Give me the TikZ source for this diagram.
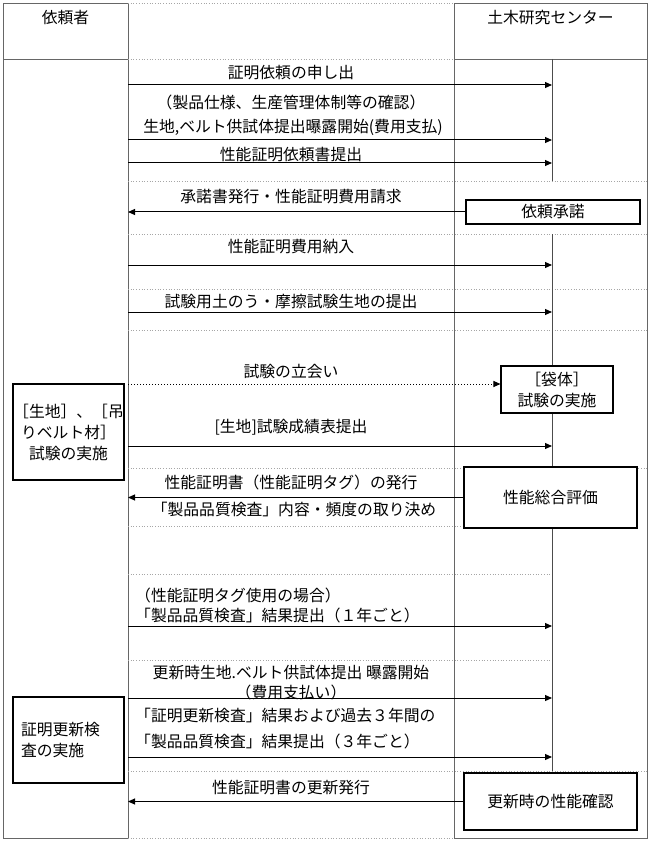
\documentclass[tikz,border=0pt]{standalone}
\usepackage{fontspec}
\setmainfont{Noto Sans CJK JP}
\usetikzlibrary{arrows.meta}
\begin{document}
\begin{tikzpicture}[x=1pt,y=-1pt,
  frame/.style={draw=black!60,line width=0.9pt},
  sep/.style={draw=black!35,dotted,line width=0.7pt},
  lifeline/.style={draw=black!70,line width=0.8pt},
  msg/.style={draw=black,line width=1pt,-{Triangle[length=7pt,width=6pt]}},
  dmsg/.style={msg,dotted},
  lbl/.style={font=\fontsize{15.8}{19}\selectfont,inner sep=0pt,anchor=center},
  lbw/.style={lbl,anchor=west},
  actbox/.style={draw=black,line width=1.1pt,fill=white,font=\fontsize{15.8}{21}\selectfont,align=center,inner sep=0pt}]
\useasboundingbox (0,0) rectangle (650,842);
% table frame
\draw[frame] (3,3) rectangle (128,59);
\draw[frame] (3,59) rectangle (128,838);
\draw[frame] (454,3) rectangle (647,59);
\draw[frame] (454,59) rectangle (647,838);
\draw[sep] (128,3) -- (454,3);
\draw[sep] (128,59) -- (454,59);
\draw[sep] (128,838) -- (454,838);
\node[lbl] (hA) at (65.5,18) {依頼者};
\node[lbl] (hB) at (550.5,18) {土木研究センター};
% separators
\foreach \yy in {181,234,289,330,468,771} \draw[sep] (128,\yy) -- (647,\yy);
\foreach \yy in {526,574,660} \draw[sep] (128,\yy) -- (552,\yy);
% lifeline
\draw[lifeline] (552,59) -- (552,181);
\draw[lifeline] (552,234) -- (552,366);
\draw[lifeline] (552,413) -- (552,467);
\draw[lifeline] (552,528) -- (552,771);
% boxes
\node[actbox,minimum width=174pt,minimum height=24pt] (acc) at (553,212) {依頼承諾};
\node[actbox,minimum width=112pt,minimum height=47pt] (bag) at (557,389.5) {［袋体］\\試験の実施};
\node[actbox,minimum width=173pt,minimum height=61pt] (eval) at (550.5,497.5) {性能総合評価};
\node[actbox,minimum width=173pt,minimum height=57pt] (renew) at (550.5,801.5) {更新時の性能確認};
\node[actbox,minimum width=111pt,minimum height=96pt] (lt1) at (68.5,432) {［生地］、［吊\\りベルト材］\\試験の実施};
\node[actbox,minimum width=111pt,minimum height=86pt,align=left,text width=95pt] (lt2) at (68.5,740) {証明更新検\\査の実施};
% message end points
\coordinate (L) at (128,0);
\coordinate (R) at (552,0);
\foreach \n/\yy in {1/85,2/140,3/163,5/265,6/312,7/384,8/446,10/626,11/698,12/757}{
  \coordinate (s\n) at (128,\yy);
  \coordinate (e\n) at (552,\yy);
}
\draw[msg] (s1) -- (e1);
\draw[msg] (s2) -- (e2);
\draw[msg] (s3) -- (e3);
\draw[msg] (acc.west) -- (acc.west -| L);
\draw[msg] (s5) -- (e5);
\draw[msg] (s6) -- (e6);
\draw[dmsg] (s7) -- (s7 -| bag.west);
\draw[msg] (s8) -- (e8);
\draw[msg] (eval.west) -- (eval.west -| L);
\draw[msg] (s10) -- (e10);
\draw[msg] (s11) -- (e11);
\draw[msg] (s12) -- (e12);
\draw[msg] (renew.west) -- (renew.west -| L);
% labels
\node[lbl] (t1) at (291,73) {証明依頼の申し出};
\node[lbl] (t1b) at (291,102) {（製品仕様、生産管理体制等の確認）};
\node[lbl] (t2) at (293,127) {生地,ベルト供試体提出曝露開始(費用支払)};
\node[lbl] (t3) at (291,155) {性能証明依頼書提出};
\node[lbl] (t4) at (291,197) {承諾書発行・性能証明費用請求};
\node[lbl] (t5) at (291,247) {性能証明費用納入};
\node[lbl] (t6) at (291,302) {試験用土のう・摩擦試験生地の提出};
\node[lbl] (t7) at (291,372) {試験の立会い};
\node[lbl] (t8) at (291,427) {[生地]試験成績表提出};
\node[lbl] (t9) at (291,482) {性能証明書（性能証明タグ）の発行};
\node[lbl] (t9b) at (294,509) {「製品品質検査」内容・頻度の取り決め};
\node[lbw] (t10) at (135,595) {（性能証明タグ使用の場合）};
\node[lbw] (t10b) at (135,615) {「製品品質検査」結果提出（１年ごと）};
\node[lbl] (t11) at (291,673) {更新時生地.ベルト供試体提出 曝露開始};
\node[lbl] (t11b) at (291,692) {（費用支払い）};
\node[lbw] (t12) at (135,716) {「証明更新検査」結果および過去３年間の};
\node[lbw] (t12b) at (135,741) {「製品品質検査」結果提出（３年ごと）};
\node[lbl] (t13) at (291,788) {性能証明書の更新発行};
\end{tikzpicture}
\end{document}
